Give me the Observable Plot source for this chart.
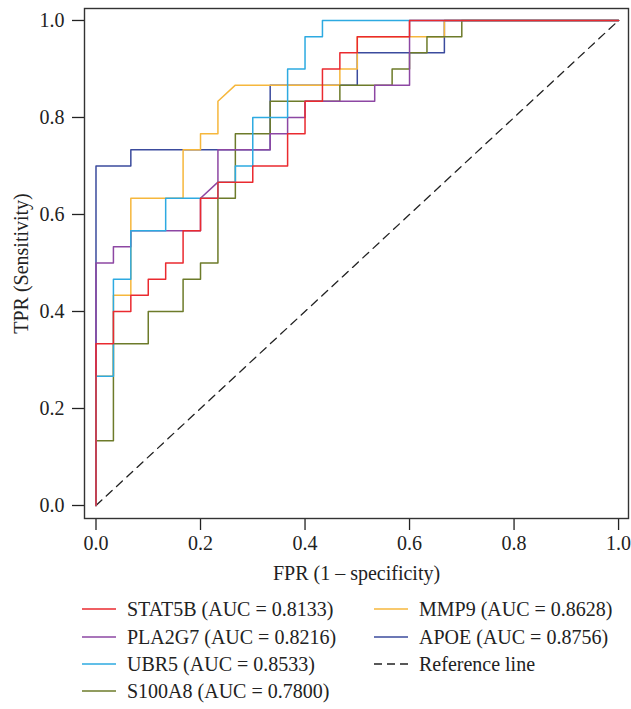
<!DOCTYPE html>
<html>
<head>
<meta charset="utf-8">
<script src="https://cdn.jsdelivr.net/npm/d3@7"></script>
<script src="https://cdn.jsdelivr.net/npm/@observablehq/plot@0.6"></script>
<style>
  html, body { margin: 0; padding: 0; background: #fff; }
  #wrap { position: relative; width: 631px; height: 709px; font-family: "Liberation Serif", "Times New Roman", serif; color: #222; }
  #legend { position: absolute; left: 0; top: 0; width: 631px; height: 709px; pointer-events: none; }
  .item { position: absolute; height: 24px; display: flex; align-items: center; font-size: 20px; white-space: nowrap; }
  .item svg { margin-right: 11px; display: block; }
</style>
</head>
<body>
<div id="wrap"><div id="chart"></div><div id="legend"></div></div>
<script>
// ---- data (counts out of 30 negatives / 30 positives) ----
const N = 30;
const genes = ["STAT5B", "PLA2G7", "UBR5", "S100A8", "MMP9", "APOE"];
const aucs = ["0.8133", "0.8216", "0.8533", "0.7800", "0.8628", "0.8756"];
const colors = ["#EA2A2F", "#8D47A3", "#2DAAE1", "#6D7B2A", "#F6B73C", "#3B4B9D"];

const stat5bFpr = [0,0,1,1,2,2,3,3,4,4,5,5,6,6,7,7,9,9,11,11,12,12,13,13,14,14,15,15,18,18,30];
const stat5bTpr = [0,10,10,12,12,13,13,14,14,15,15,17,17,19,19,20,20,21,21,23,23,25,25,27,27,28,28,29,29,30,30];

const pla2g7Fpr = [0,0,1,1,2,2,6,6,7,7,10,10,11,11,12,12,16,16,18,18,30];
const pla2g7Tpr = [0,15,15,16,16,17,17,19,20,22,22,23,23,24,24,25,25,26,26,30,30];

const ubr5Fpr = [0,0,1,1,2,2,4,4,7,7,8,8,9,9,11,11,12,12,13,13,30];
const ubr5Tpr = [0,8,8,14,14,17,17,19,19,20,20,21,21,24,24,27,27,29,29,30,30];

const s100a8Fpr = [0,0,1,1,3,3,5,5,6,6,7,7,8,8,10,10,14,14,17,17,18,18,19,19,21,21,30];
const s100a8Tpr = [0,4,4,10,10,12,12,14,14,15,15,19,19,23,23,25,25,26,26,27,27,28,28,29,29,30,30];

const mmp9Fpr = [0,0,1,1,2,2,5,5,6,6,7,7,8,14,14,15,15,20,20,30];
const mmp9Tpr = [0,8,8,13,13,19,19,22,22,23,23,25,26,26,27,27,29,29,30,30];

const apoeFpr = [0,0,2,2,10,10,15,15,20,20,30];
const apoeTpr = [0,21,21,22,22,26,26,28,28,30,30];

const refFpr = [0, 1];
const refTpr = [0, 1];

const tickValues = [0, 0.2, 0.4, 0.6, 0.8, 1.0];

// ---- build tables ----
const curves = {
  STAT5B: [stat5bFpr, stat5bTpr],
  PLA2G7: [pla2g7Fpr, pla2g7Tpr],
  UBR5: [ubr5Fpr, ubr5Tpr],
  S100A8: [s100a8Fpr, s100a8Tpr],
  MMP9: [mmp9Fpr, mmp9Tpr],
  APOE: [apoeFpr, apoeTpr]
};
function table(g) {
  const [f, t] = curves[g];
  return f.map((v, i) => ({fpr: v / N, tpr: t[i] / N}));
}
const refData = refFpr.map((v, i) => ({fpr: v, tpr: refTpr[i]}));
const colorOf = Object.fromEntries(genes.map((g, i) => [g, colors[i]]));
// drawing order (bottom to top), as seen in the picture
const drawOrder = ["APOE", "MMP9", "S100A8", "PLA2G7", "UBR5", "STAT5B"];

const chart = Plot.plot({
  width: 631,
  height: 610,
  marginLeft: 84,
  marginRight: 3,
  marginTop: 8,
  marginBottom: 92,
  style: {fontFamily: "'Liberation Serif', 'Times New Roman', serif", fontSize: "20px", color: "#222", background: "#fff", overflow: "visible"},
  x: {domain: [-0.022, 1.019]},
  y: {domain: [-0.0268, 1.0247]},
  marks: [
    Plot.axisX({ticks: tickValues, tickFormat: d3.format(".1f"), tickSize: 12, tickPadding: 5, color: "#222", strokeWidth: 1.3,
      label: "FPR (1 – specificity)", labelAnchor: "center", labelOffset: 61, labelArrow: "none"}),
    Plot.axisY({ticks: tickValues, tickFormat: d3.format(".1f"), tickSize: 12, tickPadding: 8, color: "#222", strokeWidth: 1.3,
      label: "TPR (Sensitivity)", labelAnchor: "center", labelOffset: 71, labelArrow: "none"}),
    Plot.line(refData, {x: "fpr", y: "tpr", stroke: "#222", strokeWidth: 1.3, strokeDasharray: "8,6"}),
    ...drawOrder.map(g => Plot.line(table(g), {x: "fpr", y: "tpr", stroke: colorOf[g], strokeWidth: 1.5, curve: "linear"})),
    Plot.frame({stroke: "#333", strokeWidth: 1.4})
  ]
});
document.getElementById("chart").appendChild(chart);

// ---- legend ----
const legendItems = genes.map((g, i) => ({label: `${g} (AUC = ${aucs[i]})`, color: colors[i], dashed: false}));
legendItems.push({label: "Reference line", color: "#222", dashed: true});
const colX = [82, 374];
const rowY = [609, 637, 664, 691];
const layout = [[0,0],[0,1],[0,2],[0,3],[1,0],[1,1],[1,2]];
const leg = document.getElementById("legend");
const svgNS = "http://www.w3.org/2000/svg";
legendItems.forEach((it, i) => {
  const [c, r] = layout[i];
  const div = document.createElement("div");
  div.className = "item";
  div.style.left = colX[c] + "px";
  div.style.top = (rowY[r] - 12) + "px";
  const sw = document.createElementNS(svgNS, "svg");
  sw.setAttribute("width", "34");
  sw.setAttribute("height", "6");
  const ln = document.createElementNS(svgNS, "line");
  ln.setAttribute("x1", "0"); ln.setAttribute("x2", "34");
  ln.setAttribute("y1", "3"); ln.setAttribute("y2", "3");
  ln.setAttribute("stroke", it.color);
  ln.setAttribute("stroke-width", "1.6");
  if (it.dashed) ln.setAttribute("stroke-dasharray", "8,5");
  sw.appendChild(ln);
  const tx = document.createElement("span");
  tx.textContent = it.label;
  div.appendChild(sw);
  div.appendChild(tx);
  leg.appendChild(div);
});
</script>
</body>
</html>
